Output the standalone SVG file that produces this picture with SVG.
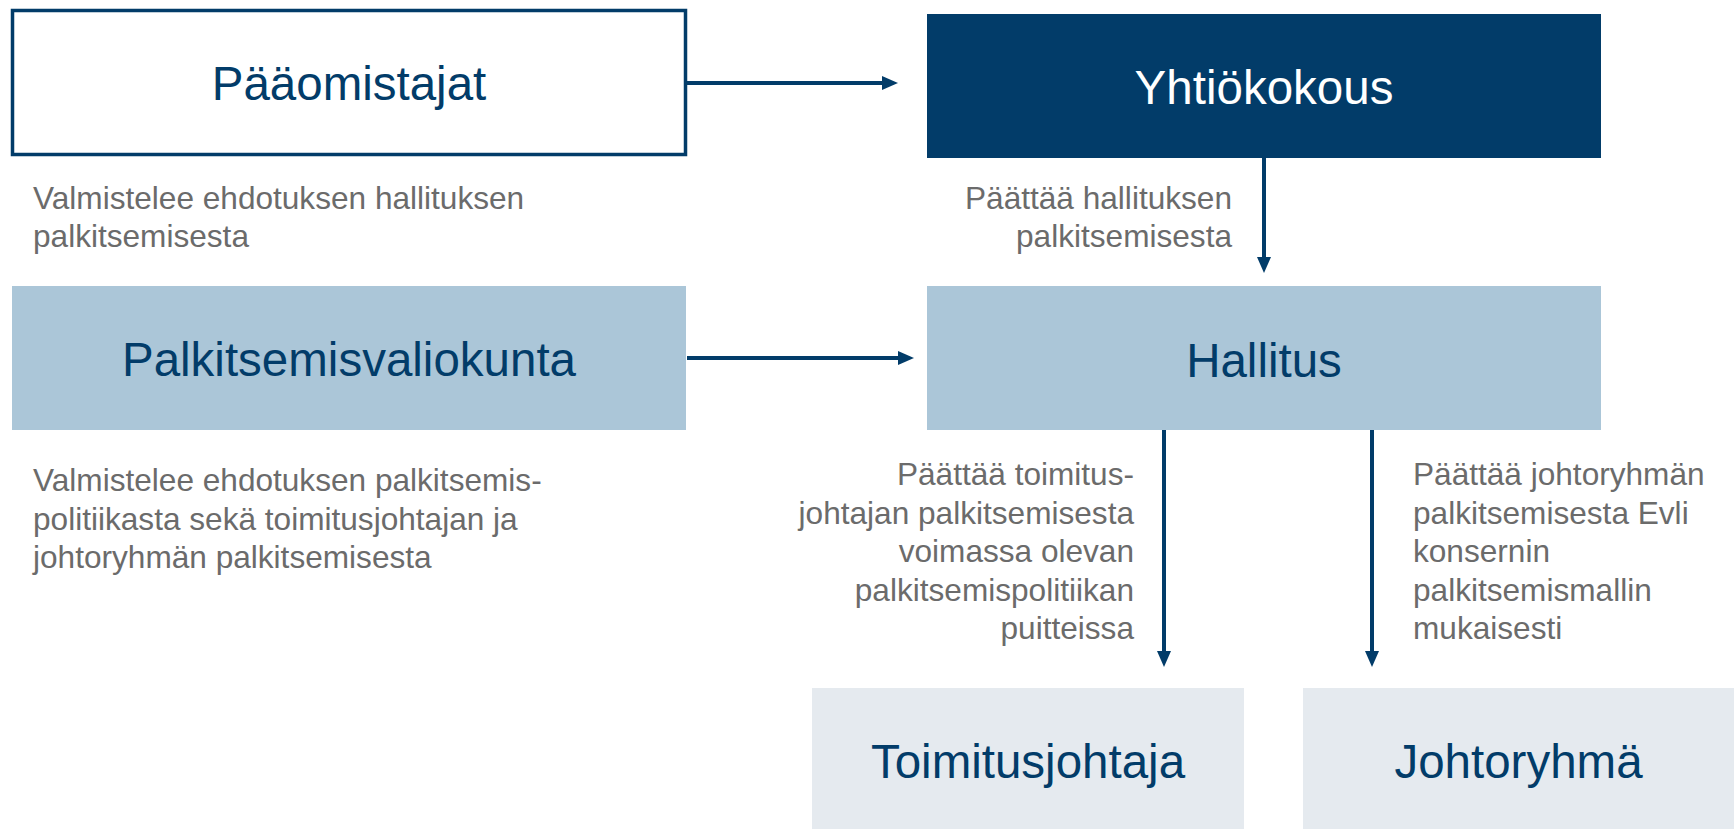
<svg xmlns="http://www.w3.org/2000/svg" width="1734" height="829" viewBox="0 0 1734 829">
<style>
.node-title{font-family:"Liberation Sans",Arial,sans-serif;font-size:47.5px;text-anchor:middle}
.navy{fill:#023c69}
.white{fill:#ffffff}
.lbl{font-family:"Liberation Sans",Arial,sans-serif;font-size:31.6px;fill:#6b6b6b}
.conn{stroke:#023c69;stroke-width:4;fill:none;marker-end:url(#ah)}
</style>
<defs>
<marker id="ah" viewBox="0 0 16 16" markerWidth="16" markerHeight="16" refX="4" refY="8" orient="auto" markerUnits="userSpaceOnUse">
<path d="M0,1 L16,8 L0,15 Z" fill="#023c69"/>
</marker>
</defs>
<rect width="1734" height="829" fill="#ffffff"/>

<g id="paaomistajat">
<rect x="12.5" y="10.5" width="673" height="144" fill="#ffffff" stroke="#023c69" stroke-width="3.5"/>
<text class="node-title navy" x="349" y="100">Pääomistajat</text>
</g>

<g id="yhtiokokous">
<rect x="927" y="14" width="674" height="144" fill="#023c69"/>
<text class="node-title white" x="1264" y="104">Yhtiökokous</text>
</g>

<g id="palkitsemisvaliokunta">
<rect x="12" y="286" width="674" height="144" fill="#abc6d8"/>
<text class="node-title navy" x="349" y="376">Palkitsemisvaliokunta</text>
</g>

<g id="hallitus">
<rect x="927" y="286" width="674" height="144" fill="#abc6d8"/>
<text class="node-title navy" x="1264" y="377">Hallitus</text>
</g>

<g id="toimitusjohtaja">
<rect x="812" y="688" width="432" height="141" fill="#e5eaef"/>
<text class="node-title navy" x="1028" y="778">Toimitusjohtaja</text>
</g>

<g id="johtoryhma">
<rect x="1303" y="688" width="431" height="141" fill="#e5eaef"/>
<text class="node-title navy" x="1518.5" y="778">Johtoryhmä</text>
</g>

<g id="connectors">
<line class="conn" x1="687" y1="83" x2="886" y2="83"/>
<line class="conn" x1="687" y1="358" x2="902" y2="358"/>
<line class="conn" x1="1264" y1="158" x2="1264" y2="261"/>
<line class="conn" x1="1164" y1="430" x2="1164" y2="655"/>
<line class="conn" x1="1372" y1="430" x2="1372" y2="655"/>
</g>

<g id="labels">
<text class="lbl"><tspan x="33" y="209">Valmistelee ehdotuksen hallituksen</tspan><tspan x="33" y="247">palkitsemisesta</tspan></text>
<text class="lbl" text-anchor="end"><tspan x="1232" y="209">Päättää hallituksen</tspan><tspan x="1232" y="247">palkitsemisesta</tspan></text>
<text class="lbl"><tspan x="33" y="491">Valmistelee ehdotuksen palkitsemis-</tspan><tspan x="33" y="529.5">politiikasta sekä toimitusjohtajan ja</tspan><tspan x="33" y="568">johtoryhmän palkitsemisesta</tspan></text>
<text class="lbl" text-anchor="end"><tspan x="1134" y="485">Päättää toimitus-</tspan><tspan x="1134" y="523.5">johtajan palkitsemisesta</tspan><tspan x="1134" y="562">voimassa olevan</tspan><tspan x="1134" y="600.5">palkitsemispolitiikan</tspan><tspan x="1134" y="639">puitteissa</tspan></text>
<text class="lbl"><tspan x="1413" y="485">Päättää johtoryhmän</tspan><tspan x="1413" y="523.5">palkitsemisesta Evli</tspan><tspan x="1413" y="562">konsernin</tspan><tspan x="1413" y="600.5">palkitsemismallin</tspan><tspan x="1413" y="639">mukaisesti</tspan></text>
</g>
</svg>
